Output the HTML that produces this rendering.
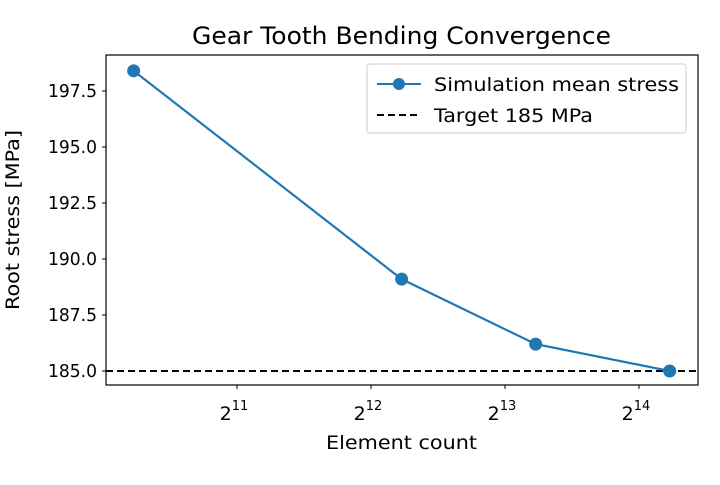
<!DOCTYPE html>
<html><head><meta charset="utf-8"><style>
body{margin:0;background:#fff;width:720px;height:480px;overflow:hidden;font-family:"Liberation Sans","DejaVu Sans",sans-serif}
</style></head><body>
<svg id="chart" width="720" height="480" xmlns="http://www.w3.org/2000/svg" font-family="DejaVu Sans, Liberation Sans, sans-serif">
<rect width="720" height="480" fill="#fff"/>
<text x="192" y="44" font-size="24" textLength="419" lengthAdjust="spacingAndGlyphs" fill="#000">Gear Tooth Bending Convergence</text>
<g id="plot"></g>
<text x="326" y="449" font-size="19" textLength="151" lengthAdjust="spacingAndGlyphs">Element count</text>
<text transform="translate(19,310) rotate(-90)" font-size="19" textLength="180" lengthAdjust="spacingAndGlyphs">Root stress [MPa]</text>
<g>
<rect x="367" y="64" width="319" height="69" rx="3" fill="#fff" stroke="#ccc"/>
<line x1="377" y1="84" x2="421" y2="84" stroke="#1f77b4" stroke-width="2"/>
<circle cx="399" cy="84" r="6" fill="#1f77b4"/>
<text x="434" y="91" font-size="19" textLength="245" lengthAdjust="spacingAndGlyphs">Simulation mean stress</text>
<line x1="377" y1="115" x2="421" y2="115" stroke="#000" stroke-width="2" stroke-dasharray="7,4"/>
<text x="434" y="122" font-size="19" textLength="159" lengthAdjust="spacingAndGlyphs">Target 185 MPa</text>
</g>
</svg>
<script>
const elementCounts=[1200,4800,9600,19200];
const meanStress=[198.4,189.1,186.2,185.0];
const targetStress=185;
const xTickExps=[11,12,13,14];
const yTicks=[185.0,187.5,190.0,192.5,195.0,197.5];
const L=106,R=698,T=55,B=385;
const xs=v=>237+(Math.log2(v)-11)*134;
const ys=v=>371-(v-185)*22.4;
const NS="http://www.w3.org/2000/svg";
const g=document.getElementById('plot');
function mk(t,a){const e=document.createElementNS(NS,t);for(const k in a)e.setAttribute(k,a[k]);g.appendChild(e);return e;}
yTicks.forEach(v=>{const y=ys(v);
const l=mk('line',{x1:L-4,x2:L,y1:y,y2:y,stroke:'#000'});


const t=mk('text',{x:L-9,y:y+6,'font-size':18,'text-anchor':'end',textLength:49,lengthAdjust:'spacingAndGlyphs'});t.textContent=v.toFixed(1);

});
xTickExps.forEach(e=>{const x=xs(Math.pow(2,e));
const l=mk('line',{x1:x,x2:x,y1:B,y2:B+4,stroke:'#000'});


const t=mk('text',{x:x-3,y:B+35,'font-size':19,'text-anchor':'middle'});


t.innerHTML='2<tspan dy="-10" font-size="13">'+e+'</tspan>';});
const ty=ys(targetStress);
const tl=mk('line',{x1:L,x2:R,y1:ty,y2:ty,stroke:'#000','stroke-width':2,'stroke-dasharray':'7,4'});


const pts=elementCounts.map((c,i)=>xs(c)+','+ys(meanStress[i])).join(' ');
const pl=mk('polyline',{points:pts,fill:'none',stroke:'#1f77b4','stroke-width':2.2});


elementCounts.forEach((c,i)=>{const p=mk('circle',{cx:xs(c),cy:ys(meanStress[i]),r:6.5,fill:'#1f77b4'});

});
const fr=mk('rect',{x:L,y:T,width:R-L,height:B-T,fill:'none',stroke:'#000','stroke-width':1.2});


</script>
</body></html>
